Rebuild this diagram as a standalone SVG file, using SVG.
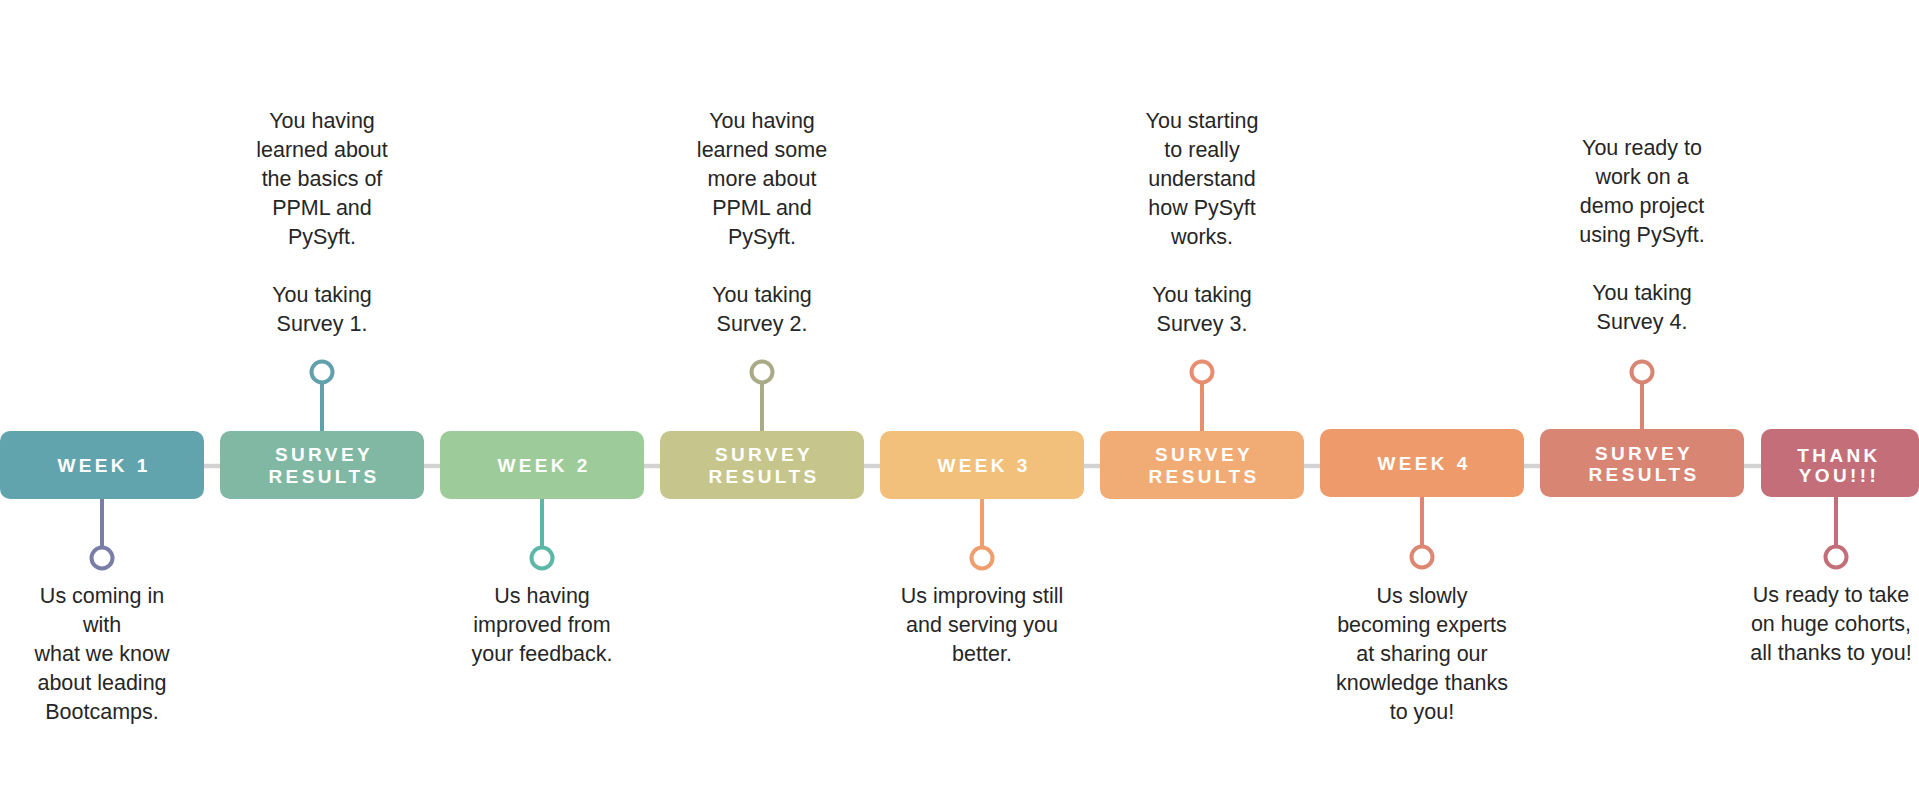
<svg xmlns="http://www.w3.org/2000/svg" width="1919" height="811" viewBox="0 0 1919 811">
<style>
.box{stroke:none}
.lbl{font-family:"Liberation Sans",Arial,sans-serif;font-weight:bold;font-size:19px;letter-spacing:3.4px;fill:#ffffff;text-anchor:middle}
.txt{font-family:"Liberation Sans",Arial,sans-serif;font-size:21.5px;fill:#262626;text-anchor:middle}
.stem{stroke-width:4;fill:none}
.dot{stroke-width:4;fill:#ffffff}
</style>
<rect width="1919" height="811" fill="#ffffff"/>
<g id="connectors">
<line x1="0" y1="466" x2="1919" y2="466" stroke="#d3d3d3" stroke-width="4.5"/>
</g>
<g id="week1">
<rect class="box" x="0" y="431" width="204" height="68" rx="10" fill="#62a4ad"/>
<text class="lbl" x="104" y="472">WEEK 1</text>
<line class="stem" x1="102" y1="499" x2="102" y2="547" stroke="#7a7ea6"/>
<circle class="dot" cx="102" cy="558" r="10.5" stroke="#7a7ea6"/>
<text class="txt"><tspan x="102" y="603">Us coming in</tspan><tspan x="102" y="632">with</tspan><tspan x="102" y="661">what we know</tspan><tspan x="102" y="690">about leading</tspan><tspan x="102" y="719">Bootcamps.</tspan></text>
</g>
<g id="survey1">
<rect class="box" x="220" y="431" width="204" height="68" rx="10" fill="#80b8a4"/>
<text class="lbl"><tspan x="324" y="461">SURVEY</tspan><tspan x="324" y="483">RESULTS</tspan></text>
<line class="stem" x1="322" y1="383" x2="322" y2="431" stroke="#62a0ac"/>
<circle class="dot" cx="322" cy="372" r="10.5" stroke="#62a0ac"/>
<text class="txt"><tspan x="322" y="128">You having</tspan><tspan x="322" y="157">learned about</tspan><tspan x="322" y="186">the basics of</tspan><tspan x="322" y="215">PPML and</tspan><tspan x="322" y="244">PySyft.</tspan><tspan x="322" y="302">You taking</tspan><tspan x="322" y="331">Survey 1.</tspan></text>
</g>
<g id="week2">
<rect class="box" x="440" y="431" width="204" height="68" rx="10" fill="#9dcb99"/>
<text class="lbl" x="544" y="472">WEEK 2</text>
<line class="stem" x1="542" y1="499" x2="542" y2="547" stroke="#5cb7a7"/>
<circle class="dot" cx="542" cy="558" r="10.5" stroke="#5cb7a7"/>
<text class="txt"><tspan x="542" y="603">Us having</tspan><tspan x="542" y="632">improved from</tspan><tspan x="542" y="661">your feedback.</tspan></text>
</g>
<g id="survey2">
<rect class="box" x="660" y="431" width="204" height="68" rx="10" fill="#c6c68c"/>
<text class="lbl"><tspan x="764" y="461">SURVEY</tspan><tspan x="764" y="483">RESULTS</tspan></text>
<line class="stem" x1="762" y1="383" x2="762" y2="431" stroke="#a9aa88"/>
<circle class="dot" cx="762" cy="372" r="10.5" stroke="#a9aa88"/>
<text class="txt"><tspan x="762" y="128">You having</tspan><tspan x="762" y="157">learned some</tspan><tspan x="762" y="186">more about</tspan><tspan x="762" y="215">PPML and</tspan><tspan x="762" y="244">PySyft.</tspan><tspan x="762" y="302">You taking</tspan><tspan x="762" y="331">Survey 2.</tspan></text>
</g>
<g id="week3">
<rect class="box" x="880" y="431" width="204" height="68" rx="10" fill="#f2c07b"/>
<text class="lbl" x="984" y="472">WEEK 3</text>
<line class="stem" x1="982" y1="499" x2="982" y2="547" stroke="#f09e6e"/>
<circle class="dot" cx="982" cy="558" r="10.5" stroke="#f09e6e"/>
<text class="txt"><tspan x="982" y="603">Us improving still</tspan><tspan x="982" y="632">and serving you</tspan><tspan x="982" y="661">better.</tspan></text>
</g>
<g id="survey3">
<rect class="box" x="1100" y="431" width="204" height="68" rx="10" fill="#f1ab74"/>
<text class="lbl"><tspan x="1204" y="461">SURVEY</tspan><tspan x="1204" y="483">RESULTS</tspan></text>
<line class="stem" x1="1202" y1="383" x2="1202" y2="431" stroke="#e78e70"/>
<circle class="dot" cx="1202" cy="372" r="10.5" stroke="#e78e70"/>
<text class="txt"><tspan x="1202" y="128">You starting</tspan><tspan x="1202" y="157">to really</tspan><tspan x="1202" y="186">understand</tspan><tspan x="1202" y="215">how PySyft</tspan><tspan x="1202" y="244">works.</tspan><tspan x="1202" y="302">You taking</tspan><tspan x="1202" y="331">Survey 3.</tspan></text>
</g>
<g id="week4">
<rect class="box" x="1320" y="429" width="204" height="68" rx="10" fill="#ee9a6b"/>
<text class="lbl" x="1424" y="470">WEEK 4</text>
<line class="stem" x1="1422" y1="497" x2="1422" y2="546" stroke="#dd8672"/>
<circle class="dot" cx="1422" cy="557" r="10.5" stroke="#dd8672"/>
<text class="txt"><tspan x="1422" y="603">Us slowly</tspan><tspan x="1422" y="632">becoming experts</tspan><tspan x="1422" y="661">at sharing our</tspan><tspan x="1422" y="690">knowledge thanks</tspan><tspan x="1422" y="719">to you!</tspan></text>
</g>
<g id="survey4">
<rect class="box" x="1540" y="429" width="204" height="68" rx="10" fill="#d98574"/>
<text class="lbl"><tspan x="1644" y="460">SURVEY</tspan><tspan x="1644" y="481">RESULTS</tspan></text>
<line class="stem" x1="1642" y1="383" x2="1642" y2="429" stroke="#d98574"/>
<circle class="dot" cx="1642" cy="372" r="10.5" stroke="#d98574"/>
<text class="txt"><tspan x="1642" y="155">You ready to</tspan><tspan x="1642" y="184">work on a</tspan><tspan x="1642" y="213">demo project</tspan><tspan x="1642" y="242">using PySyft.</tspan><tspan x="1642" y="300">You taking</tspan><tspan x="1642" y="329">Survey 4.</tspan></text>
</g>
<g id="thankyou">
<rect class="box" x="1761" y="429" width="158" height="68" rx="10" fill="#c36e79"/>
<text class="lbl"><tspan x="1839" y="462">THANK</tspan><tspan x="1839" y="482">YOU!!!</tspan></text>
<line class="stem" x1="1836" y1="497" x2="1836" y2="546" stroke="#c36e79"/>
<circle class="dot" cx="1836" cy="557" r="10.5" stroke="#c36e79"/>
<text class="txt"><tspan x="1831" y="602">Us ready to take</tspan><tspan x="1831" y="631">on huge cohorts,</tspan><tspan x="1831" y="660">all thanks to you!</tspan></text>
</g>
</svg>
